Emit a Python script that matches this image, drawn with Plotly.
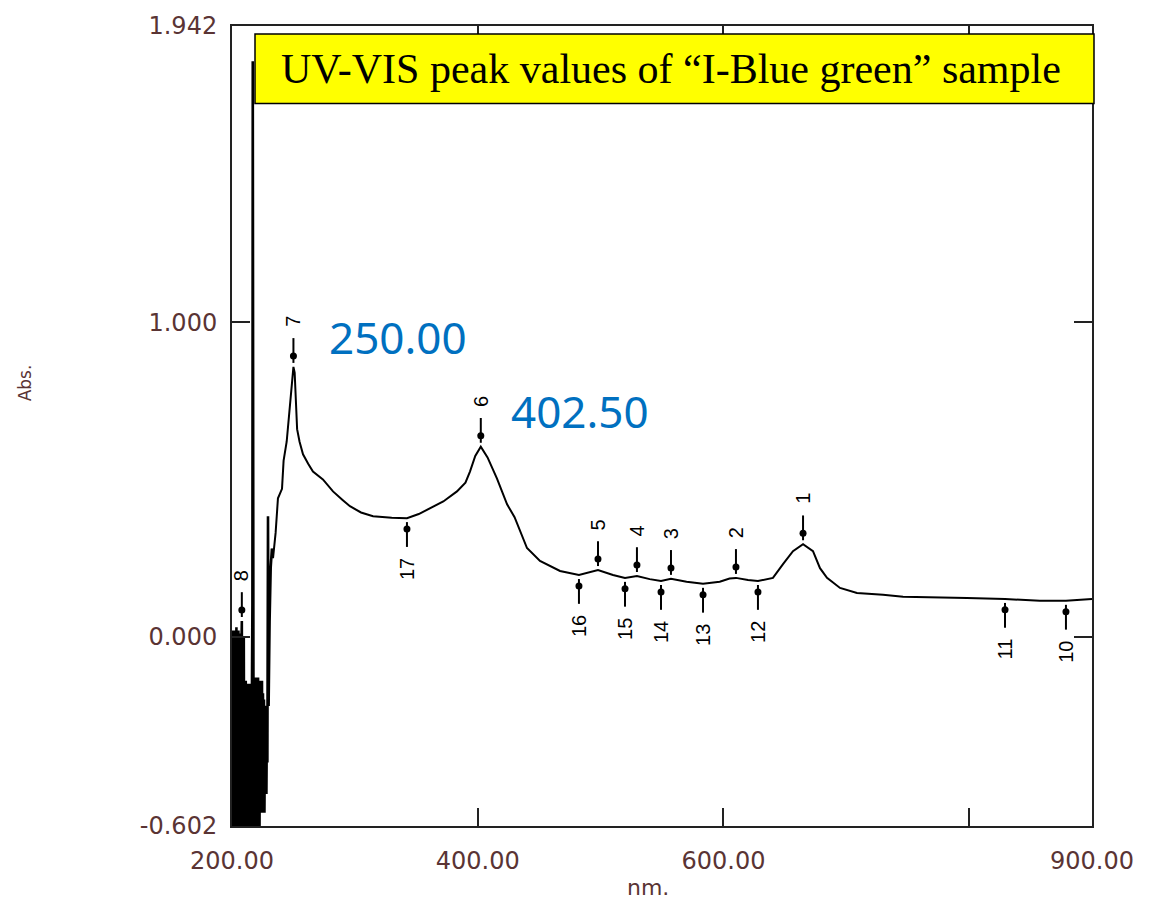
import plotly.graph_objects as go

# ---------------- data ----------------
# noisy low-wavelength region (200-216 nm)
noise_a_nm = [200.0, 200.4, 200.8, 201.2, 201.6, 202.0, 202.4, 202.8, 203.2, 203.6,
              204.0, 204.4, 204.8, 205.2, 205.6, 206.0, 206.4, 206.8, 207.2, 207.6,
              208.0, 208.4, 208.8, 209.2, 209.6, 210.0, 210.4, 210.8, 211.2, 211.6,
              212.0, 212.4, 212.8, 213.2, 213.6, 214.0, 214.4, 214.8, 215.2, 215.6,
              216.0]
noise_a_abs = [-0.62, 0.02, -0.62, 0.01, -0.62, 0.02, -0.60, 0.00, -0.62, 0.03,
               -0.62, 0.01, -0.58, 0.02, -0.62, -0.02, -0.24, 0.01, -0.62, -0.05,
               0.05, -0.62, -0.10, -0.62, 0.00, -0.62, -0.15, -0.62, -0.14, -0.62,
               -0.15, -0.60, -0.16, -0.62, -0.15, -0.62, -0.18, -0.62, -0.15, -0.62,
               -0.36]
# sharp spike
spike_nm = [216.6, 216.9, 217.2]
spike_abs = [0.10, 1.83, -0.30]
# noisy region after the spike (217.6-231.5 nm)
noise_b_nm = [217.6, 218.0, 218.4, 218.8, 219.2, 219.6, 220.0, 220.4, 220.8, 221.2,
              221.6, 222.0, 222.4, 222.8, 223.2, 223.6, 224.0, 224.4, 224.8, 225.2,
              225.6, 226.0, 226.4, 226.8, 227.2, 227.6, 228.0, 228.4, 228.8, 229.3,
              229.8, 230.6, 231.5]
noise_b_abs = [-0.62, -0.13, -0.62, -0.15, -0.62, -0.13, -0.60, -0.14, -0.62, -0.13,
               -0.58, -0.15, -0.62, -0.14, -0.56, -0.16, -0.56, -0.14, -0.56, -0.18,
               -0.50, -0.20, -0.56, -0.30, -0.45, -0.22, -0.50, -0.25, -0.40, 0.383,
               -0.22, 0.05, 0.22]

# smooth spectrum (232.5-900 nm)
main_nm = [232.5, 233.4, 235.5, 237.4, 240.7, 242.0, 244.5, 246.5, 248.5, 250.0,
           251.0, 252.0, 253.0, 255.0, 257.8, 262.0, 265.9, 274.0, 282.2, 290.0,
           296.0, 305.0, 314.8, 330.0, 342.4, 352.0, 361.2, 372.0, 383.1, 390.0,
           393.7, 398.0, 402.5, 408.0, 415.7, 423.9, 430.0, 440.1, 450.7, 467.0,
           482.4, 490.0, 497.9, 510.1, 519.9, 529.6, 540.0, 549.2, 557.3, 570.0,
           583.4, 597.0, 605.0, 610.2, 620.0, 628.1, 640.3, 648.5, 656.6, 664.8,
           672.9, 678.6, 684.3, 694.9, 708.7, 729.9, 746.2, 798.2, 829.2, 857.6,
           878.8, 887.8, 900.0]
main_abs = [0.28, 0.25, 0.33, 0.44, 0.47, 0.56, 0.62, 0.70, 0.80, 0.858,
            0.84, 0.76, 0.66, 0.62, 0.58, 0.55, 0.525, 0.50, 0.462, 0.435,
            0.415, 0.395, 0.383, 0.378, 0.377, 0.39, 0.408, 0.43, 0.462, 0.49,
            0.525, 0.575, 0.604, 0.57, 0.503, 0.421, 0.38, 0.282, 0.241, 0.209,
            0.196, 0.205, 0.212, 0.196, 0.187, 0.193, 0.183, 0.177, 0.184, 0.175,
            0.168, 0.175, 0.185, 0.187, 0.180, 0.177, 0.187, 0.231, 0.272, 0.294,
            0.272, 0.218, 0.187, 0.155, 0.139, 0.133, 0.127, 0.123, 0.120, 0.114,
            0.114, 0.117, 0.120]

peak_labels = ["1", "2", "3", "4", "5", "6", "7", "8"]
peak_nm = [664.8, 610.2, 557.3, 529.6, 497.9, 402.5, 250.0, 208.0]
peak_abs = [0.294, 0.187, 0.184, 0.193, 0.212, 0.604, 0.858, 0.05]

valley_labels = ["10", "11", "12", "13", "14", "15", "16", "17"]
valley_nm = [878.8, 829.2, 628.1, 583.4, 549.2, 519.9, 482.4, 342.4]
valley_abs = [0.114, 0.120, 0.177, 0.168, 0.177, 0.187, 0.196, 0.377]

highlight_text = ["250.00", "402.50"]
highlight_idx = [6, 5]          # index into peak arrays

x_tickvals = [200, 400, 600, 800, 900]
x_ticktext = ["200.00", "400.00", "600.00", "", "900.00"]
y_tickvals = [-0.602, 0.0, 1.0, 1.942]
y_ticktext = ["-0.602", "0.000", "1.000", "1.942"]

title_text = "UV-VIS peak values of \u201cI-Blue green\u201d sample"

assert len(noise_a_nm) == len(noise_a_abs)
assert len(noise_b_nm) == len(noise_b_abs)
assert len(main_nm) == len(main_abs)

# ---------------- layout constants ----------------
W, H = 1152, 900
ML, MR, MT, MB = 232, 60, 20, 74
X_RANGE = [200, 900]
Y_RANGE = [-0.602, 1.942]
PLOT_W = W - ML - MR
PLOT_H = H - MT - MB
PX = PLOT_H / (Y_RANGE[1] - Y_RANGE[0])   # pixels per absorbance unit

LABEL_COLOR = "#5a3434"

noise_nm = noise_a_nm + spike_nm + noise_b_nm + main_nm[:1]
noise_abs = noise_a_abs + spike_abs + noise_b_abs + main_abs[:1]

fig = go.Figure()
fig.add_trace(go.Scatter(x=noise_nm, y=noise_abs, mode="lines",
                         line=dict(color="black", width=2.6),
                         hoverinfo="skip", showlegend=False))
fig.add_trace(go.Scatter(x=main_nm, y=main_abs, mode="lines",
                         line=dict(color="black", width=2),
                         hoverinfo="skip", showlegend=False))

# peak / valley marker sticks
def sticks(xs, ys, sign):
    lx, ly, dx, dy = [], [], [], []
    for x, y in zip(xs, ys):
        lx += [x, x, None]
        ly += [y + sign * 4 / PX, y + sign * 29 / PX, None]
        dx.append(x)
        dy.append(y + sign * 11 / PX)
    return lx, ly, dx, dy

for xs, ys, sg in [(peak_nm, peak_abs, 1), (valley_nm, valley_abs, -1)]:
    lx, ly, dx, dy = sticks(xs, ys, sg)
    fig.add_trace(go.Scatter(x=lx, y=ly, mode="lines",
                             line=dict(color="black", width=2),
                             hoverinfo="skip", showlegend=False))
    fig.add_trace(go.Scatter(x=dx, y=dy, mode="markers",
                             marker=dict(color="black", size=7),
                             hoverinfo="skip", showlegend=False))

annotations = []
for t, x, y in zip(peak_labels, peak_nm, peak_abs):
    annotations.append(dict(x=x, y=y, xref="x", yref="y", text=t, showarrow=False,
                            textangle=-90, yanchor="bottom", xanchor="center",
                            yshift=38, font=dict(family="Liberation Sans", size=20,
                                                 color="black")))
for t, x, y in zip(valley_labels, valley_nm, valley_abs):
    annotations.append(dict(x=x, y=y, xref="x", yref="y", text=t, showarrow=False,
                            textangle=-90, yanchor="top", xanchor="center",
                            yshift=-38, font=dict(family="Liberation Sans", size=20,
                                                  color="black")))

# blue highlighted peak values
shifts = [(34, 30), (28, 36)]
for t, i, (xs, ys) in zip(highlight_text, highlight_idx, shifts):
    annotations.append(dict(x=peak_nm[i], y=peak_abs[i], xref="x", yref="y", text=t,
                            showarrow=False, xanchor="left", yanchor="middle",
                            xshift=xs, yshift=ys,
                            font=dict(family="Noto Sans", size=44, color="#0070C0")))

# title box text
annotations.append(dict(x=(671 - ML) / PLOT_W, y=(H - MB - 63) / PLOT_H,
                        xref="paper", yref="paper", text=title_text, showarrow=False,
                        xanchor="center", yanchor="middle",
                        font=dict(family="Liberation Serif", size=42, color="black")))

# axis titles
annotations.append(dict(x=(648 - ML) / PLOT_W, y=(H - MB - 888) / PLOT_H,
                        xref="paper", yref="paper", text="nm.", showarrow=False,
                        xanchor="center", yanchor="middle",
                        font=dict(family="DejaVu Sans", size=22, color=LABEL_COLOR)))
annotations.append(dict(x=(25 - ML) / PLOT_W, y=(H - MB - 380) / PLOT_H,
                        xref="paper", yref="paper", text="Abs.", showarrow=False,
                        textangle=-90, xanchor="center", yanchor="middle",
                        font=dict(family="DejaVu Sans", size=17, color=LABEL_COLOR)))

shapes = [dict(type="rect", xref="paper", yref="paper",
               x0=(255 - ML) / PLOT_W, x1=(1094 - ML) / PLOT_W,
               y0=(H - MB - 98) / PLOT_H, y1=(H - MB - 28) / PLOT_H,
               fillcolor="#FFFF00", line=dict(color="black", width=1.5),
               layer="above")]

fig.update_layout(
    width=W, height=H,
    margin=dict(l=ML, r=MR, t=MT, b=MB, pad=0),
    paper_bgcolor="white", plot_bgcolor="white",
    showlegend=False,
    annotations=annotations,
    shapes=shapes,
    xaxis=dict(range=X_RANGE, tickvals=x_tickvals, ticktext=x_ticktext,
               showgrid=False, zeroline=False, showline=True, linecolor="#222",
               linewidth=2, mirror="ticks", ticks="inside", ticklen=18,
               tickwidth=2, tickcolor="#222", ticklabelstandoff=12,
               tickfont=dict(family="DejaVu Sans", size=24, color=LABEL_COLOR)),
    yaxis=dict(range=Y_RANGE, tickvals=y_tickvals, ticktext=y_ticktext,
               showgrid=False, zeroline=False, showline=True, linecolor="#222",
               linewidth=2, mirror="ticks", ticks="inside", ticklen=18,
               tickwidth=2, tickcolor="#222", ticklabelstandoff=8,
               tickfont=dict(family="DejaVu Sans", size=24, color=LABEL_COLOR)),
)

fig.write_html("out.html")
